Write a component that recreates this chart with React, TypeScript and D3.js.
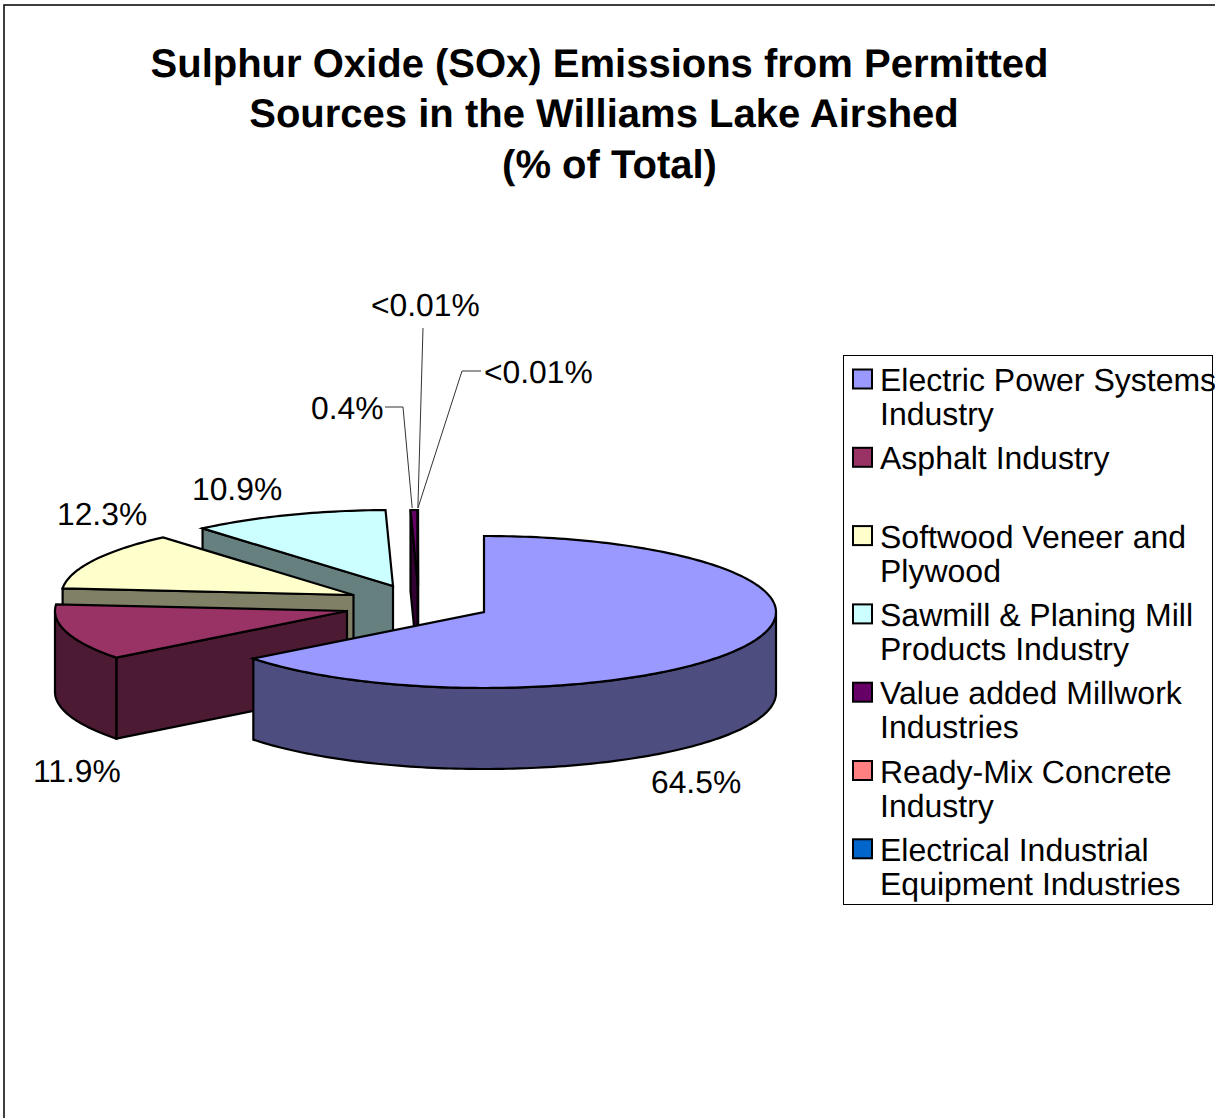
import React from 'react'
import * as d3 from 'd3'

const categories = [
  'Electric Power Systems Industry',
  'Asphalt Industry',
  'Softwood Veneer and Plywood',
  'Sawmill & Planing Mill Products Industry',
  'Value added Millwork Industries',
  'Ready-Mix Concrete Industry',
  'Electrical Industrial Equipment Industries',
]
const legendLines = [
  ['Electric Power Systems', 'Industry'],
  ['Asphalt Industry'],
  ['Softwood Veneer and', 'Plywood'],
  ['Sawmill & Planing Mill', 'Products Industry'],
  ['Value added Millwork', 'Industries'],
  ['Ready-Mix Concrete', 'Industry'],
  ['Electrical Industrial', 'Equipment Industries'],
]
const values = [64.5, 11.9, 12.3, 10.9, 0.4, 0.004, 0.004]
const valueLabels = ['64.5%', '11.9%', '12.3%', '10.9%', '0.4%', '<0.01%', '<0.01%']
const colors = ['#9999ff', '#993366', '#ffffcc', '#ccffff', '#660066', '#ff8080', '#0066cc']
const titleLines = [
  'Sulphur Oxide (SOx) Emissions from Permitted',
  'Sources in the Williams Lake Airshed',
  '(% of Total)',
]

// layout
const FONT = '"Liberation Sans", Arial, sans-serif'
const RX = 292
const RY = 76
const DEPTH = 81
// exploded centre of each slice
const centres: [number, number][] = [
  [484, 612],
  [347, 611],
  [353.5, 595],
  [393, 586],
  [418, 586],
  [418, 586],
  [418, 586],
]
const titleCentres = [599.5, 604, 609.5]
const titleBaselines = [77, 127, 178]
const drawOrder = [3, 4, 5, 6, 2, 1, 0]
const labelPos: [number, number][] = [
  [651, 793],
  [33, 782],
  [57, 525],
  [192, 500],
  [311, 419],
  [371, 316],
  [484, 383],
]
// leader lines start at the label, the end sits on the rim of the slice
const leaders: Record<number, [number, number][]> = {
  4: [[385, 407], [403, 407]],
  5: [[423, 328]],
  6: [[481, 371], [462, 371]],
}

const pie = d3.pie<number>().sort(null).startAngle(0).endAngle(2 * Math.PI)
const slices = pie(values)

const rimPoint = (i: number, a: number): [number, number] => [
  centres[i][0] + RX * Math.sin(a),
  centres[i][1] - RY * Math.cos(a),
]

const line = d3.line()

const rimPoints = (i: number, a0: number, a1: number, dy = 0): [number, number][] => {
  const n = Math.max(2, Math.ceil(Math.abs(a1 - a0) / 0.02))
  return d3.range(n + 1).map((k) => {
    const p = rimPoint(i, a0 + ((a1 - a0) * k) / n)
    return [p[0], p[1] + dy] as [number, number]
  })
}

const radialFace = (i: number, a: number) => {
  const [cx, cy] = centres[i]
  const [x, y] = rimPoint(i, a)
  return line([
    [cx, cy],
    [x, y],
    [x, y + DEPTH],
    [cx, cy + DEPTH],
  ]) + 'Z'
}

const shade = (c: string) => {
  const r = d3.rgb(c)
  return d3.rgb(r.r * 0.5, r.g * 0.5, r.b * 0.5).formatHex()
}

const Slice = ({ i }: { i: number }) => {
  const { startAngle: a0, endAngle: a1 } = slices[i]
  const side = shade(colors[i])
  const top = line([centres[i], ...rimPoints(i, a0, a1)]) + 'Z'
  // the part of the outer wall which faces the viewer
  const w0 = Math.max(a0, Math.PI / 2)
  const w1 = Math.min(a1, (3 * Math.PI) / 2)
  const wall =
    w1 > w0
      ? line([...rimPoints(i, w0, w1), ...rimPoints(i, w1, w0, DEPTH)]) + 'Z'
      : null
  const common = { stroke: '#000', strokeWidth: 2.2 }
  return (
    <g>
      {Math.sin(a0) < 0 && <path d={radialFace(i, a0)} fill={side} {...common} />}
      {Math.sin(a1) > 0 && <path d={radialFace(i, a1)} fill={side} {...common} />}
      {wall && <path d={wall} fill={side} {...common} />}
      <path d={top} fill={colors[i]} {...common} />
    </g>
  )
}

const App = () => {
  return (
    <svg
      width={1215}
      height={1118}
      style={{ position: 'absolute', left: 0, top: 0, background: '#fff' }}
      fontFamily={FONT}
      textRendering="geometricPrecision"
    >
      <rect x={4} y={5} width={1400} height={1400} fill="#fff" stroke="#000" strokeWidth={1.5} />

      {titleLines.map((t, i) => (
        <text
          key={t}
          x={titleCentres[i]}
          y={titleBaselines[i]}
          textAnchor="middle"
          fontSize={40}
          fontWeight="bold"
        >
          {t}
        </text>
      ))}

      {drawOrder.map((i) => (
        <Slice key={categories[i]} i={i} />
      ))}

      {Object.entries(leaders).map(([k, pts]) => {
        const i = +k
        const mid = (slices[i].startAngle + slices[i].endAngle) / 2
        const [x, y] = rimPoint(i, mid)
        const end: [number, number] = [i === 4 ? x - 2 : x, y - 2]
        return <path key={k} d={line([...pts, end]) ?? ''} fill="none" stroke="#333" strokeWidth={1} />
      })}

      {valueLabels.map((t, i) => (
        <text key={i} x={labelPos[i][0]} y={labelPos[i][1]} fontSize={31.8}>
          {t}
        </text>
      ))}

      <rect x={843.5} y={355.5} width={369} height={549} fill="none" stroke="#000" strokeWidth={1} />
      {legendLines.map((lines, i) => {
        const base = 391 + i * 78.3
        return (
          <g key={categories[i]}>
            <rect x={853} y={base - 21.5} width={19} height={19} fill={colors[i]} stroke="#000" strokeWidth={2} />
            {lines.map((l, j) => (
              <text key={l} x={880} y={base + j * 34} fontSize={32}>
                {l}
              </text>
            ))}
          </g>
        )
      })}
    </svg>
  )
}

export default App
